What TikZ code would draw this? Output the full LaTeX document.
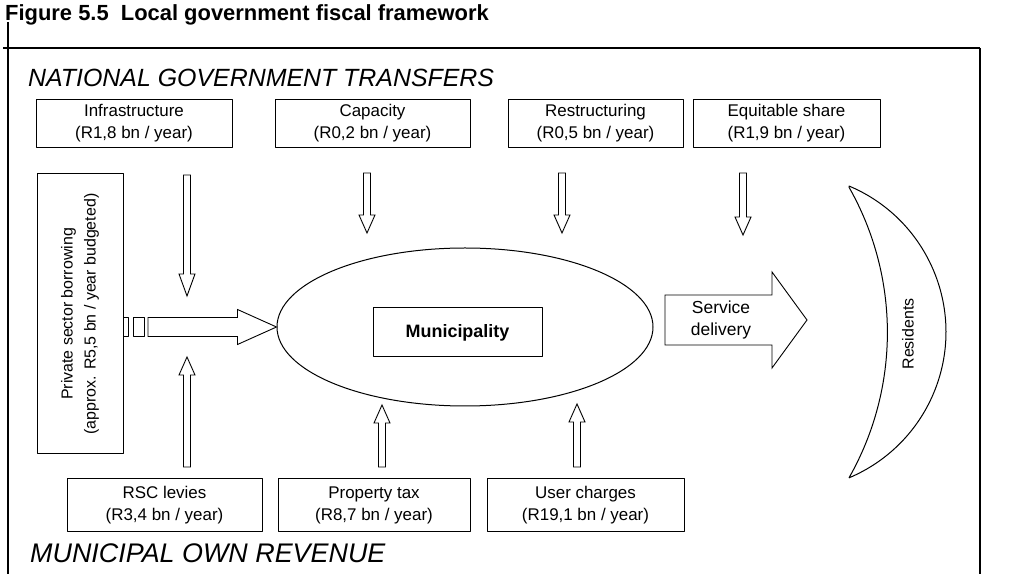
\documentclass[tikz,border=0pt]{standalone}
\usepackage{fontspec}
\setmainfont{Liberation Sans}
\usetikzlibrary{calc,shapes.geometric}

\tikzset{
  labelbox/.style={draw,line width=1bp,minimum height=48bp,inner sep=0pt,align=center,font=\fontsize{17}{22}\selectfont},
  heading/.style={anchor=west,inner sep=0pt,font=\fontsize{25}{29}\selectfont\itshape},
  blockline/.style={draw,line width=0.9bp,line join=miter},
}

% hollow block arrow: from, tip, shaft half width, head half width, head length
\newcommand{\hollowarrow}[5]{%
  \draw [blockline] let \p1=(#1), \p2=(#2),
      \n1={atan2(\y2-\y1,\x2-\x1)}, \n2={veclen(\x2-\x1,\y2-\y1)} in
    [shift={(\p1)},rotate=\n1]
    (0pt,-#3) -- ({\n2-#5},-#3) -- ({\n2-#5},-#4) -- ({\n2},0pt)
    -- ({\n2-#5},#4) -- ({\n2-#5},#3) -- (0pt,#3) -- cycle;}

\begin{document}
\begin{tikzpicture}[>=latex,line join=bevel,]
\useasboundingbox (0bp,0bp) rectangle (1013bp,574bp);
%%
\node (node_caption) at (5bp,559bp) [anchor=west,inner sep=0pt,font=\fontsize{22}{25}\selectfont\bfseries] {Figure 5.5\ \ Local government fiscal framework};
  \draw [line width=1.2bp] (3bp,526bp) -- (980bp,526bp);
  \draw [line width=1.2bp] (8bp,552bp) -- (8bp,0bp);
  \draw [line width=1.2bp] (980bp,526bp) -- (980bp,0bp);
  \node (node_national) at (28bp,496bp) [heading] {NATIONAL GOVERNMENT TRANSFERS};
  \node (node_municipal) at (30bp,21bp) [heading,font=\fontsize{27}{31}\selectfont\itshape] {MUNICIPAL OWN REVENUE};
%
  \node (node_infra) at (134bp,450.5bp) [labelbox,minimum width=196bp] {Infrastructure\\(R1,8 bn / year)};
  \node (node_capacity) at (372.5bp,450.5bp) [labelbox,minimum width=195bp] {Capacity\\(R0,2 bn / year)};
  \node (node_restruct) at (595.5bp,450.5bp) [labelbox,minimum width=175bp] {Restructuring\\(R0,5 bn / year)};
  \node (node_equitable) at (786.5bp,450.5bp) [labelbox,minimum width=187bp] {Equitable share\\(R1,9 bn / year)};
  \node (node_rsc) at (164.5bp,68.5bp) [labelbox,minimum width=195bp,minimum height=53bp] {RSC levies\\(R3,4 bn / year)};
  \node (node_property) at (374bp,68.5bp) [labelbox,minimum width=192bp,minimum height=53bp] {Property tax\\(R8,7 bn / year)};
  \node (node_user) at (585.5bp,68.5bp) [labelbox,minimum width=197bp,minimum height=53bp] {User charges\\(R19,1 bn / year)};
  \node (node_private) at (80bp,260bp) [labelbox,minimum width=280bp,minimum height=86bp,rotate=90,font=\fontsize{16}{23}\selectfont] {Private sector borrowing\\(approx. R5,5 bn / year budgeted)};
  \node (node_gap_a) at (125.5bp,247bp) [draw,line width=0.9bp,minimum width=5bp,minimum height=19bp,inner sep=0pt] {};
  \node (node_gap_b) at (138.5bp,247bp) [draw,line width=0.9bp,minimum width=11bp,minimum height=19bp,inner sep=0pt] {};
  \node (node_ellipse) at (465bp,247bp) [ellipse,draw,line width=1bp,minimum width=376bp,minimum height=158bp] {};
  \node (node_municipality) at (457.5bp,241.5bp) [labelbox,minimum width=169bp,minimum height=49bp,font=\fontsize{18}{22}\selectfont\bfseries] {Municipality};
  \node (node_service) at (721bp,254bp) [align=center,inner sep=0pt,font=\fontsize{17.5}{22}\selectfont] {Service\\delivery};
  \node (node_residents) at (908bp,240bp) [rotate=90,inner sep=0pt,font=\fontsize{16}{20}\selectfont] {Residents};
  \draw [line width=1bp] (849bp,388bp) arc[start angle=67.2,end angle=-67.2,radius=158.3bp]
    arc[start angle=-29.6,end angle=29.6,radius=294.2bp] -- cycle;
%
  \coordinate (infra_out) at (187bp,399bp);
  \coordinate (infra_tip) at (187bp,278bp);
  \coordinate (capacity_out) at (367bp,401bp);
  \coordinate (capacity_tip) at (367bp,341bp);
  \coordinate (restruct_out) at (562bp,401bp);
  \coordinate (restruct_tip) at (562bp,341bp);
  \coordinate (equitable_out) at (743bp,401bp);
  \coordinate (equitable_tip) at (743bp,339bp);
  \coordinate (rsc_out) at (187bp,107bp);
  \coordinate (rsc_tip) at (187bp,217bp);
  \coordinate (property_out) at (382bp,107bp);
  \coordinate (property_tip) at (382bp,169bp);
  \coordinate (user_out) at (577bp,107bp);
  \coordinate (user_tip) at (577bp,170bp);
  \coordinate (private_out) at (148bp,247bp);
  \coordinate (service_out) at (665bp,254bp);
  \coordinate (service_tip) at (807bp,254bp);
  \hollowarrow{infra_out}{infra_tip}{3.5bp}{8bp}{22bp}
  \hollowarrow{capacity_out}{capacity_tip}{3.5bp}{8bp}{18bp}
  \hollowarrow{restruct_out}{restruct_tip}{3.5bp}{8bp}{18bp}
  \hollowarrow{equitable_out}{equitable_tip}{3.5bp}{8bp}{18bp}
  \hollowarrow{rsc_out}{rsc_tip}{3.5bp}{8bp}{18bp}
  \hollowarrow{property_out}{property_tip}{3.5bp}{8bp}{18bp}
  \hollowarrow{user_out}{user_tip}{3.5bp}{8bp}{18bp}
  \hollowarrow{private_out}{node_ellipse.west}{9.5bp}{17.5bp}{39bp}
  \hollowarrow{service_out}{service_tip}{25bp}{48bp}{35bp}
%
\end{tikzpicture}
\end{document}
